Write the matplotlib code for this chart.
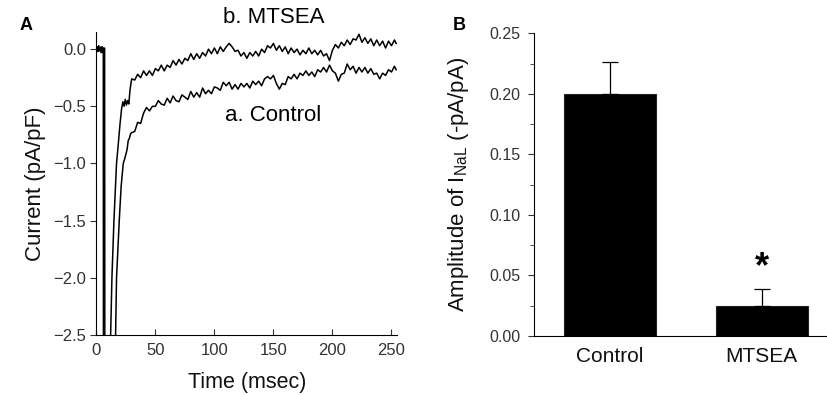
import numpy as np
import matplotlib
matplotlib.use("Agg")
import matplotlib.pyplot as plt

plt.rcParams["font.family"] = ["Liberation Sans", "DejaVu Sans"]

# panel A: current traces (ms, pA/pF)
ctrl_t = [0, 1, 2, 3, 4, 5, 5.9, 6.0, 15.8, 16.3, 17.1, 19.4, 21.0, 22.8, 24.0, 25.0, 26.0, 27.0, 28.0, 29.0,
          30, 32.5, 35, 37.5, 40, 42.5, 45, 47.5, 50, 52.5, 55, 57.5, 60, 62.5, 65, 67.5, 70, 72.5, 75, 77.5,
          80, 82.5, 85, 87.5, 90, 92.5, 95, 97.5, 100, 102.5, 105, 107.5, 110, 112.5, 115, 117.5, 120, 122.5,
          125, 127.5, 130, 132.5, 135, 137.5, 140, 142.5, 145, 147.5, 150, 152.5, 155, 157.5, 160, 162.5,
          165, 167.5, 170, 172.5, 175, 177.5, 180, 182.5, 185, 187.5, 190, 192.5, 195, 197.5, 200, 202.5,
          205, 207.5, 210, 212.5, 215, 217.5, 220, 222.5, 225, 227.5, 230, 232.5, 235, 237.5, 240, 242.5,
          245, 247.5, 250, 252.5, 254]
ctrl_i = [0.01, -0.02, 0.03, -0.01, 0.02, -0.03, 0.01, -3.0, -3.0, -2.5, -2.0, -1.5, -1.2, -1.0, -0.96, -0.92,
          -0.88, -0.80, -0.78, -0.74,
          -0.73, -0.72, -0.64, -0.65, -0.56, -0.51, -0.54, -0.50, -0.50, -0.45, -0.48, -0.49, -0.43, -0.47,
          -0.41, -0.45, -0.46, -0.40, -0.42, -0.44, -0.37, -0.42, -0.38, -0.42, -0.34, -0.39, -0.36, -0.39,
          -0.33, -0.34, -0.36, -0.29, -0.32, -0.29, -0.35, -0.31, -0.35, -0.30, -0.33, -0.30, -0.34, -0.28,
          -0.31, -0.28, -0.32, -0.26, -0.24, -0.26, -0.23, -0.30, -0.35, -0.30, -0.31, -0.24, -0.26, -0.22,
          -0.26, -0.21, -0.23, -0.19, -0.23, -0.20, -0.24, -0.18, -0.20, -0.16, -0.20, -0.14, -0.19, -0.21,
          -0.28, -0.22, -0.21, -0.13, -0.18, -0.15, -0.21, -0.16, -0.20, -0.16, -0.21, -0.17, -0.22, -0.21,
          -0.26, -0.21, -0.23, -0.18, -0.20, -0.15, -0.18]

mtsea_t = [0, 1, 2, 3, 4, 5, 6.0, 7.0, 7.2, 12.0, 12.1, 13.2, 14.9, 17.1, 18.5, 20.0, 21.4, 22.5, 23.5, 24.5,
           25.5, 26.5, 27.5, 28.5, 29.3,
           30, 32.5, 35, 37.5, 40, 42.5, 45, 47.5, 50, 52.5, 55, 57.5, 60, 62.5, 65, 67.5, 70, 72.5, 75, 77.5,
           80, 82.5, 85, 87.5, 90, 92.5, 95, 97.5, 100, 102.5, 105, 107.5, 110, 112.5, 115, 117.5, 120, 122.5,
           125, 127.5, 130, 132.5, 135, 137.5, 140, 142.5, 145, 147.5, 150, 152.5, 155, 157.5, 160, 162.5,
           165, 167.5, 170, 172.5, 175, 177.5, 180, 182.5, 185, 187.5, 190, 192.5, 195, 197.5, 200, 202.5,
           205, 207.5, 210, 212.5, 215, 217.5, 220, 222.5, 225, 227.5, 230, 232.5, 235, 237.5, 240, 242.5,
           245, 247.5, 250, 252.5, 254]
mtsea_i = [-0.01, 0.02, -0.02, 0.01, -0.03, 0.02, -0.01, 0.01, -3.0, -3.0, -2.5, -2.0, -1.5, -1.0, -0.84, -0.66,
           -0.52, -0.46, -0.50, -0.44, -0.49, -0.45, -0.48, -0.36, -0.30,
           -0.26, -0.27, -0.22, -0.25, -0.19, -0.23, -0.19, -0.23, -0.17, -0.19, -0.14, -0.19, -0.14, -0.16,
           -0.10, -0.14, -0.09, -0.13, -0.08, -0.10, -0.04, -0.09, -0.04, -0.08, -0.03, -0.06, 0.00, -0.04,
           0.01, -0.04, 0.02, -0.02, 0.02, 0.05, 0.02, -0.02, -0.01, -0.06, -0.03, -0.08, -0.03, -0.06,
           -0.02, -0.06, 0.00, -0.03, 0.03, 0.01, 0.05, -0.01, 0.03, -0.02, 0.02, -0.04, 0.01, -0.03, 0.00,
           -0.05, -0.01, -0.04, 0.01, -0.04, -0.01, -0.05, -0.01, -0.06, -0.04, -0.10, -0.01, 0.04, 0.01,
           0.06, 0.03, 0.08, 0.04, 0.09, 0.08, 0.13, 0.06, 0.10, 0.05, 0.09, 0.03, 0.08, 0.03, 0.07, 0.01,
           0.07, 0.03, 0.08, 0.05]

# panel B: bar chart
groups = ["Control", "MTSEA"]
amp = [0.200, 0.0245]
amp_err = [0.0265, 0.0138]

fig = plt.figure(figsize=(8.27, 3.95), dpi=100)
tick_col = "#333333"

# ---- A
ax1 = fig.add_axes([0.1165, 0.152, 0.364, 0.767])
ax1.plot(ctrl_t, ctrl_i, color="black", lw=1.1)
ax1.plot(mtsea_t, mtsea_i, color="black", lw=1.1)
ax1.set_xlim(0, 255)
ax1.set_ylim(-2.5, 0.15)
ax1.set_xticks([0, 50, 100, 150, 200, 250])
ax1.set_yticks([-2.5, -2.0, -1.5, -1.0, -0.5, 0.0])
ax1.set_yticklabels(["\u22122.5", "\u22122.0", "\u22121.5", "\u22121.0", "\u22120.5", "0.0"])
ax1.spines["top"].set_visible(False)
ax1.spines["right"].set_visible(False)
ax1.tick_params(axis="x", direction="in", length=4, labelsize=12, colors=tick_col, pad=6)
ax1.tick_params(axis="y", direction="out", length=4, labelsize=12, colors=tick_col)
ax1.set_xlabel("Time (msec)", fontsize=15.5, color="#111111", labelpad=10)
ax1.set_ylabel("Current (pA/pF)", fontsize=16, color="#111111", labelpad=5)
ax1.text(150, 0.28, "b. MTSEA", fontsize=16, ha="center", va="center", clip_on=False)
ax1.text(150, -0.58, "a. Control", fontsize=16, ha="center", va="center")
fig.text(0.024, 0.935, "A", fontsize=13, fontweight="bold", ha="left", va="center")

# ---- B
ax2 = fig.add_axes([0.6457, 0.150, 0.3543, 0.7657])
x = np.arange(len(groups))
ax2.bar(x, amp, width=0.604, color="black", edgecolor="#222222", lw=0.8,
        yerr=[[0, 0], amp_err], capsize=6, error_kw=dict(ecolor="black", elinewidth=0.9, capthick=0.9))
ax2.set_xlim(-0.5, 1.43)
ax2.set_ylim(0, 0.25)
ax2.set_xticks(x)
ax2.set_xticklabels(groups)
ax2.set_yticks([0.0, 0.05, 0.10, 0.15, 0.20, 0.25])
ax2.set_yticklabels(["0.00", "0.05", "0.10", "0.15", "0.20", "0.25"])
ax2.set_yticks([0.025, 0.075, 0.125, 0.175, 0.225], minor=True)
ax2.spines["top"].set_visible(False)
ax2.spines["right"].set_visible(False)
ax2.tick_params(axis="x", length=0, labelsize=15, colors="#111111", pad=8)
ax2.tick_params(axis="y", which="major", direction="out", length=4, labelsize=11.5, colors=tick_col, pad=6)
ax2.tick_params(axis="y", which="minor", direction="out", length=3, colors=tick_col)
ax2.set_ylabel("Amplitude of I$_{\\mathregular{NaL}}$ (-pA/pA)", fontsize=16, color="#111111", labelpad=13)
ax2.text(1, 0.056, "*", fontsize=26, fontweight="bold", ha="center", va="center")
fig.text(0.548, 0.935, "B", fontsize=13, fontweight="bold", ha="left", va="center")

fig.savefig("out.png", dpi=100)
